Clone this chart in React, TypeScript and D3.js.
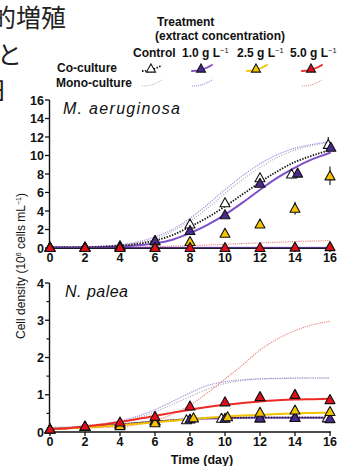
import React from "react";
import * as d3 from "d3";

// ---------- data ----------
const days = [0, 2, 4, 6, 8, 10, 12, 14, 16];
const curveDays = [0, 1, 2, 3, 4, 5, 6, 7, 8, 9, 10, 11, 12, 13, 14, 15, 16];
const xTicks = [0, 2, 4, 6, 8, 10, 12, 14, 16];
const maYTicks = [0, 2, 4, 6, 8, 10, 12, 14, 16];
const npYTicks = [0, 1, 2, 3, 4];
const npYMinor = [0.5, 1.5, 2.5, 3.5];

const treatments = ["Control", "1.0 g L", "2.5 g L", "5.0 g L"];

// M. aeruginosa co-culture measured points
const maCoControl = [0.1, 0.1, 0.2, 0.8, 2.6, 4.9, 7.6, 8.0, 11.2];
const maCo10 = [0.05, 0.1, 0.25, 0.8, 1.9, 3.6, 7.0, 8.1, 10.9];
const maCo25 = [0.1, 0.1, 0.1, 0.1, 0.7, 1.6, 2.6, 4.3, 7.8];
const maCo50 = [0.05, 0.05, 0.05, 0.05, 0.05, 0.05, 0.05, 0.1, 0.15];
const maErrControl = [0, 0, 0, 0, 0.2, 0.3, 0.3, 0.5, 0.8];
const maErr10 = [0, 0, 0, 0.1, 0.2, 0.2, 0.3, 0.5, 0.3];
const maErr25 = [0, 0, 0, 0, 0.2, 0.4, 0.3, 0.7, 1.0];
const maErr50 = [0, 0, 0, 0, 0, 0, 0, 0, 0];

// M. aeruginosa fitted curves
const maFitCoControl = [0.1, 0.1, 0.1, 0.15, 0.25, 0.45, 0.8, 1.4, 2.3, 3.3, 4.5, 5.8, 7.1, 8.3, 9.3, 10.0, 10.6];
const maFitCo10 = [0.05, 0.05, 0.05, 0.1, 0.15, 0.3, 0.5, 0.9, 1.6, 2.5, 3.6, 4.9, 6.3, 7.6, 8.7, 9.6, 10.3];
const maFitCo50 = [0.05, 0.05, 0.05, 0.05, 0.05, 0.05, 0.05, 0.05, 0.05, 0.05, 0.05, 0.05, 0.05, 0.05, 0.05, 0.05, 0.05];
const maMonoControl = [0.1, 0.1, 0.1, 0.15, 0.3, 0.55, 1.0, 1.8, 2.9, 4.3, 5.9, 7.4, 8.7, 9.8, 10.6, 11.1, 11.4];
const maMono10 = [0.1, 0.1, 0.12, 0.2, 0.35, 0.65, 1.2, 2.0, 3.2, 4.7, 6.3, 7.8, 9.1, 10.1, 10.8, 11.2, 11.5];
const maMono50 = [0.05, 0.05, 0.05, 0.06, 0.08, 0.1, 0.15, 0.2, 0.25, 0.32, 0.4, 0.48, 0.55, 0.62, 0.7, 0.75, 0.8];

// N. palea co-culture measured points
const npCoControl = [0.08, 0.15, 0.2, 0.3, 0.33, 0.37, 0.38, 0.4, 0.38];
const npCo10 = [0.08, 0.15, 0.22, 0.3, 0.35, 0.37, 0.38, 0.39, 0.36];
const npCo25 = [0.08, 0.15, 0.17, 0.25, 0.38, 0.41, 0.53, 0.59, 0.55];
const npCo50 = [0.08, 0.16, 0.27, 0.42, 0.7, 0.81, 0.95, 1.01, 0.87];

// N. palea fitted curves
const npFitCoControl = [0.08, 0.1, 0.13, 0.16, 0.2, 0.24, 0.28, 0.32, 0.35, 0.37, 0.38, 0.385, 0.39, 0.39, 0.39, 0.39, 0.39];
const npFitCo10 = [0.08, 0.1, 0.13, 0.16, 0.2, 0.24, 0.28, 0.31, 0.34, 0.36, 0.37, 0.38, 0.38, 0.38, 0.38, 0.38, 0.38];
const npFitCo25 = [0.08, 0.1, 0.12, 0.15, 0.18, 0.22, 0.26, 0.3, 0.34, 0.38, 0.41, 0.44, 0.46, 0.48, 0.5, 0.51, 0.52];
const npFitCo50 = [0.08, 0.1, 0.15, 0.2, 0.27, 0.35, 0.43, 0.52, 0.6, 0.67, 0.73, 0.78, 0.82, 0.85, 0.87, 0.88, 0.89];
const npMonoControl = [0.12, 0.13, 0.16, 0.2, 0.27, 0.38, 0.54, 0.74, 0.95, 1.15, 1.3, 1.38, 1.42, 1.43, 1.44, 1.45, 1.45];
const npMono10 = [0.12, 0.13, 0.17, 0.22, 0.3, 0.42, 0.6, 0.82, 1.05, 1.25, 1.35, 1.4, 1.43, 1.44, 1.45, 1.45, 1.45];
const npMono50 = [0.1, 0.1, 0.11, 0.12, 0.14, 0.2, 0.3, 0.48, 0.72, 1.05, 1.42, 1.8, 2.2, 2.5, 2.72, 2.88, 2.97];

// ---------- styles ----------
const C_PURPLE = "#4a2a8f";
const C_PURPLE_LINE = "#7e4fc8";
const C_YELLOW = "#f3c300";
const C_RED = "#e0101a";
const C_RED_LINE = "#ee2a24";
const C_MONO_PURPLE = "#a98fdc";
const C_MONO_GRAY = "#a8a8b4";
const C_MONO_RED = "#f07f7f";
const FONT = "'Liberation Sans', Arial, sans-serif";

const xScale = d3.scaleLinear().domain([0, 16]).range([50, 330]);
const yTop = d3.scaleLinear().domain([0, 16]).range([248, 100]);
const yBot = d3.scaleLinear().domain([0, 4]).range([432, 283]);

const tri = (cx: number, cy: number, s = 5) =>
  `M${cx},${cy - s}L${cx + s},${cy + s * 0.8}L${cx - s},${cy + s * 0.8}Z`;

function Curve({ vals, y, stroke, width, dash, opacity = 1 }: any) {
  const line = d3
    .line<number>()
    .x((_, i) => xScale(curveDays[i]))
    .y((v) => y(v))
    .curve(d3.curveMonotoneX);
  return (
    <path
      d={line(vals) || ""}
      fill="none"
      stroke={stroke}
      strokeWidth={width}
      strokeDasharray={dash}
      opacity={opacity}
      strokeLinecap={dash ? "butt" : "round"}
    />
  );
}

function Points({ vals, errs, y, fill, offsets }: any) {
  return (
    <g>
      {vals.map((v: number, i: number) => {
        const cx = xScale(days[i] + (offsets ? offsets[i] : 0));
        const cy = y(v);
        const e = errs ? errs[i] : 0;
        return (
          <g key={i}>
            {e > 0 && (
              <line x1={cx} x2={cx} y1={y(v + e)} y2={y(Math.max(0, v - e))} stroke="#111" strokeWidth={1.1} />
            )}
            <path d={tri(cx, cy)} fill={fill} stroke="#111" strokeWidth={1.1} strokeLinejoin="round" />
          </g>
        );
      })}
    </g>
  );
}

function Axes({ y, ticks, minor, x0Line }: any) {
  const [r0, r1] = y.range();
  return (
    <g fontFamily={FONT} fontSize={12.5} fill="#111">
      <line x1={49.5} x2={49.5} y1={r0 + 1} y2={r1} stroke="#111" strokeWidth={1.4} />
      {ticks.map((t: number) => (
        <g key={t}>
          <line x1={45} x2={49.5} y1={y(t)} y2={y(t)} stroke="#111" strokeWidth={1.3} />
          <text x={44} y={y(t) + 4.5} textAnchor="end" fontWeight="bold">
            {t}
          </text>
        </g>
      ))}
      {(minor || []).map((t: number) => (
        <line key={"m" + t} x1={46.5} x2={49.5} y1={y(t)} y2={y(t)} stroke="#111" strokeWidth={1.2} />
      ))}
      <line x1={49} x2={331} y1={r0} y2={r0} stroke="#111" strokeWidth={x0Line} />
      {xTicks.map((t) => (
        <g key={"x" + t}>
          <line x1={xScale(t)} x2={xScale(t)} y1={r0} y2={r0 + 4} stroke="#111" strokeWidth={1.3} />
          <text x={xScale(t)} y={r0 + 13.5} textAnchor="middle" fontWeight="bold">
            {t}
          </text>
        </g>
      ))}
    </g>
  );
}

function LegendSymbol({ x, y, color, dash, width, fill, mono }: any) {
  const p = `M${x - 10},${y + 2}C${x - 4},${y + 2} ${x + 2},${y + 1} ${x + 10},${y - 4}`;
  return (
    <g>
      <path d={p} fill="none" stroke={color} strokeWidth={width} strokeDasharray={dash} strokeLinecap={dash ? "butt" : "round"} />
      {!mono && <path d={tri(x - 1, y - 0.5, 4.5)} fill={fill} stroke="#111" strokeWidth={1.1} />}
    </g>
  );
}

export default function App() {
  const legendX = [152, 202, 257, 312];
  return (
    <svg
      width={340}
      height={466}
      style={{ position: "absolute", left: 0, top: 0, background: "#fff" }}
    >
      <rect width={340} height={466} fill="#fff" />
      {/* cropped Japanese text at left */}
      <g fontFamily="'Noto Sans CJK JP', sans-serif" fontSize={25} fill="#222">
        <text x={-9} y={27}>的増殖</text>
        <text x={-3} y={64}>と</text>
        <text x={-18} y={100}>日</text>
      </g>
      <rect x={0} y={101} width={50} height={30} fill="#fff" />

      {/* legend */}
      <g fontFamily={FONT} fontSize={12} fontWeight="bold" fill="#111">
        <text x={157} y={26}>Treatment</text>
        <text x={155} y={39.5}>(extract concentration)</text>
        {treatments.map((t, i) => (
          <text key={t} x={[133, 182, 237, 290][i]} y={57}>
            {t}
            {i > 0 && (
              <tspan dy={-4} fontSize={7.5} fontWeight="normal">
                −1
              </tspan>
            )}
          </text>
        ))}
        <text x={57} y={72}>Co-culture</text>
        <text x={56} y={87}>Mono-culture</text>
      </g>
      <LegendSymbol x={legendX[0]} y={69} color="#111" dash="1.5,1.5" width={1.8} fill="#fff" />
      <LegendSymbol x={legendX[1]} y={69} color={C_PURPLE_LINE} width={2} fill={C_PURPLE} />
      <LegendSymbol x={legendX[2]} y={69} color={C_YELLOW} width={2} fill={C_YELLOW} />
      <LegendSymbol x={legendX[3]} y={69} color={C_RED_LINE} width={2} fill={C_RED} />
      <LegendSymbol x={legendX[0]} y={84} color={C_MONO_GRAY} dash="1,1.5" width={1} mono />
      <LegendSymbol x={legendX[1]} y={84} color={C_MONO_PURPLE} dash="1,1" width={1.2} mono />
      <LegendSymbol x={legendX[3]} y={84} color={C_MONO_RED} dash="1,1" width={1} mono />

      {/* y label */}
      <text
        transform="translate(25,266) rotate(-90)"
        textAnchor="middle"
        fontFamily={FONT}
        fontSize={12}
        fill="#111"
      >
        Cell density (10
        <tspan dy={-4} fontSize={7}>6</tspan>
        <tspan dy={4}> cells mL</tspan>
        <tspan dy={-4} fontSize={7}>−1</tspan>
        <tspan dy={4}>)</tspan>
      </text>

      {/* top panel */}
      <text x={63} y={114} fontFamily={FONT} fontSize={16} fontStyle="italic" textLength={117} fill="#111">
        M. aeruginosa
      </text>
      <Curve vals={maMonoControl} y={yTop} stroke={C_MONO_GRAY} width={1.2} dash="1,1.5" />
      <Curve vals={maMono10} y={yTop} stroke={C_MONO_PURPLE} width={1.2} dash="1.2,1" />
      <Curve vals={maMono50} y={yTop} stroke={C_MONO_RED} width={1.1} dash="1.2,1" />
      <Curve vals={maFitCo10} y={yTop} stroke={C_PURPLE_LINE} width={2} />
      <Curve vals={maFitCoControl} y={yTop} stroke="#111" width={1.8} dash="1.4,1.4" />
      <Axes y={yTop} ticks={maYTicks} x0Line={2.2} />
      <Curve vals={maFitCo50} y={yTop} stroke={C_PURPLE_LINE} width={1.6} opacity={0.6} />
      <Points vals={maCo25} errs={maErr25} y={yTop} fill={C_YELLOW} />
      <Points vals={maCoControl} errs={maErrControl} y={yTop} fill="#fff" offsets={[0, 0, 0, 0, 0, 0, 0, -0.2, -0.1]} />
      <Points vals={maCo10} errs={maErr10} y={yTop} fill={C_PURPLE} offsets={[0, 0, 0, 0, 0, 0, 0, 0.15, 0.05]} />
      <Points vals={maCo50} errs={maErr50} y={yTop} fill={C_RED} />

      {/* bottom panel */}
      <text x={65} y={297} fontFamily={FONT} fontSize={16} fontStyle="italic" textLength={63} fill="#111">
        N. palea
      </text>
      <Curve vals={npMonoControl} y={yBot} stroke={C_MONO_GRAY} width={1.2} dash="1,1.5" />
      <Curve vals={npMono10} y={yBot} stroke={C_MONO_PURPLE} width={1.2} dash="1.2,1" />
      <Curve vals={npMono50} y={yBot} stroke={C_MONO_RED} width={1.1} dash="1.2,1" />
      <Curve vals={npFitCo10} y={yBot} stroke={C_PURPLE_LINE} width={2} />
      <Curve vals={npFitCoControl} y={yBot} stroke="#111" width={1.6} dash="1.4,1.4" />
      <Curve vals={npFitCo25} y={yBot} stroke={C_YELLOW} width={2} />
      <Curve vals={npFitCo50} y={yBot} stroke={C_RED_LINE} width={2} />
      <Axes y={yBot} ticks={npYTicks} minor={npYMinor} x0Line={1.6} />
      <Points vals={npCoControl} y={yBot} fill="#fff" offsets={[0, 0, 0, 0, -0.2, -0.2, 0, 0, -0.15]} />
      <Points vals={npCo10} y={yBot} fill={C_PURPLE} offsets={[0, 0, 0, 0, 0, 0, 0, 0, 0]} />
      <Points vals={npCo25} y={yBot} fill={C_YELLOW} offsets={[0, 0, 0, 0, 0.2, 0.15, 0, 0, 0]} />
      <Points vals={npCo50} y={yBot} fill={C_RED} />

      <text x={202} y={464} textAnchor="middle" fontFamily={FONT} fontSize={12.5} fontWeight="bold" fill="#111">
        Time (day)
      </text>
    </svg>
  );
}
